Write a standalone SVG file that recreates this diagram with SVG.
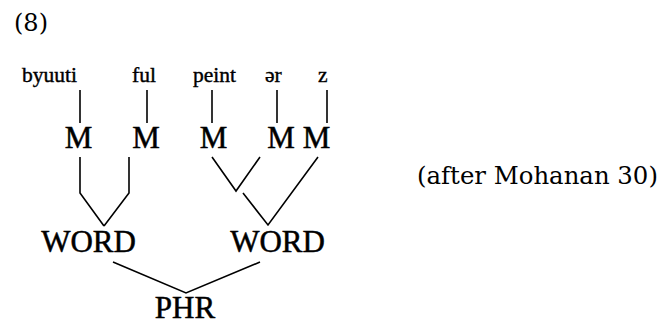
<svg xmlns="http://www.w3.org/2000/svg" width="661" height="325" viewBox="0 0 661 325">
<style>
.cap{font-family:"Liberation Serif","Times New Roman",serif;font-size:31px;fill:#000;stroke:#000;stroke-width:0.5;text-anchor:middle}
.seg{font-family:"Liberation Serif","Times New Roman",serif;font-size:21.5px;fill:#000;stroke:#000;stroke-width:0.4}
.note{font-family:"DejaVu Serif",serif;font-size:24px;fill:#000}
.ln{stroke:#000;stroke-width:1.6;fill:none;stroke-linejoin:miter}
</style>
<rect width="661" height="325" fill="#fff"/>
<text class="note" x="14" y="31">(8)</text>
<g id="segments">
<text class="seg" x="22" y="82">byuuti</text>
<text class="seg" x="132" y="82">ful</text>
<text class="seg" x="193" y="82">peint</text>
<text class="seg" x="265" y="82">ər</text>
<text class="seg" x="318" y="82">z</text>
</g>
<g id="m1"><text class="cap" x="78.5" y="148">M</text></g>
<g id="m2"><text class="cap" x="146" y="148">M</text></g>
<g id="m3"><text class="cap" x="213.5" y="148">M</text></g>
<g id="m4"><text class="cap" x="281" y="148">M</text></g>
<g id="m5"><text class="cap" x="316.5" y="148">M</text></g>
<g id="word1"><text class="cap" x="88.5" y="252">WORD</text></g>
<g id="word2"><text class="cap" x="277.5" y="252">WORD</text></g>
<g id="phr"><text class="cap" x="185" y="318">PHR</text></g>
<g id="connectors" class="ln">
<line x1="80" y1="90" x2="80" y2="123"/>
<line x1="147" y1="90" x2="147" y2="123"/>
<line x1="212" y1="90" x2="212" y2="123"/>
<line x1="277" y1="90" x2="277" y2="123"/>
<line x1="327" y1="90" x2="327" y2="123"/>
<polyline points="80,157 80,193 104,226"/>
<polyline points="129,157 129,193 104,226"/>
<polyline points="212,157 236,191 260,157"/>
<polyline points="243,193 268,225 318,157"/>
<polyline points="113,262 186,293 260,262"/>
</g>
<text class="note" x="417" y="184" style="font-size:24.4px">(after Mohanan 30)</text>
</svg>
